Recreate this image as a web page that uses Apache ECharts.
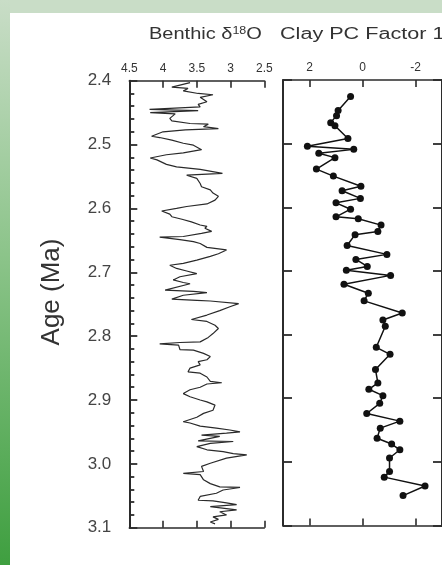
<!DOCTYPE html>
<html>
<head>
<meta charset="utf-8">
<script src="https://cdn.jsdelivr.net/npm/echarts@6.0.0/dist/echarts.min.js"></script>
<style>
html,body{margin:0;padding:0;background:#fff;}
#chart{width:442px;height:565px;}
</style>
</head>
<body>
<div id="chart"></div>
<script>
// Benthic d18O record (per mil) vs age (Ma)
const d18OAge = [2.403,2.410,2.412,2.416,2.420,2.422,2.426,2.433,2.437,2.441,2.445,2.446,2.447,2.450,2.452,2.459,2.463,2.467,2.468,2.472,2.475,2.477,2.480,2.487,2.489,2.493,2.498,2.501,2.508,2.513,2.516,2.521,2.524,2.531,2.535,2.539,2.545,2.548,2.553,2.561,2.566,2.571,2.576,2.581,2.587,2.593,2.597,2.600,2.604,2.609,2.613,2.617,2.621,2.626,2.628,2.631,2.636,2.639,2.644,2.645,2.649,2.652,2.655,2.661,2.665,2.671,2.675,2.681,2.686,2.689,2.694,2.698,2.702,2.707,2.712,2.716,2.718,2.728,2.730,2.732,2.736,2.742,2.744,2.745,2.749,2.754,2.760,2.767,2.774,2.777,2.783,2.788,2.796,2.802,2.809,2.810,2.812,2.814,2.821,2.822,2.827,2.832,2.837,2.840,2.845,2.850,2.856,2.858,2.864,2.871,2.873,2.875,2.880,2.884,2.890,2.895,2.900,2.903,2.908,2.916,2.921,2.927,2.934,2.936,2.941,2.944,2.947,2.950,2.952,2.955,2.957,2.964,2.965,2.968,2.973,2.978,2.981,2.984,2.986,2.991,2.999,3.004,3.012,3.015,3.017,3.025,3.031,3.036,3.037,3.041,3.046,3.051,3.057,3.058,3.061,3.064,3.067,3.072,3.075,3.080,3.083,3.087,3.091,3.094];
const d18O = [3.60,3.87,3.63,3.70,3.48,3.26,3.45,3.35,3.48,3.45,4.20,3.80,3.48,4.19,3.82,3.90,3.87,3.60,3.33,3.40,3.18,3.67,4.00,4.17,4.05,3.87,3.70,3.55,3.43,3.70,3.95,4.19,4.09,3.95,3.80,3.45,3.12,3.65,3.50,3.45,3.43,3.30,3.26,3.18,3.23,3.35,3.65,3.80,4.02,3.90,3.87,3.72,3.58,3.45,3.35,3.38,3.28,3.43,3.70,4.05,3.75,3.55,3.45,3.35,3.06,3.18,3.30,3.50,3.70,3.90,3.80,3.65,3.50,3.75,3.85,3.70,3.60,3.97,3.55,3.35,3.70,3.87,3.50,3.30,2.88,3.01,3.16,3.35,3.58,3.35,3.23,3.18,3.26,3.33,3.45,3.75,4.05,3.77,3.75,3.55,3.40,3.30,3.35,3.48,3.45,3.60,3.63,3.45,3.35,3.30,3.13,3.35,3.45,3.60,3.70,3.60,3.45,3.35,3.23,3.26,3.40,3.50,3.70,3.60,3.45,3.21,3.01,2.86,3.06,3.43,3.16,3.48,2.96,3.30,3.50,3.35,3.11,2.96,2.76,3.06,3.30,3.43,3.40,3.70,3.45,3.40,3.30,3.16,2.86,3.11,3.21,3.45,3.48,3.26,3.06,2.91,3.30,2.91,3.16,3.06,3.26,3.18,3.30,3.23];

// Clay PC Factor 1 vs age (Ma)
const clayAge = [2.426,2.448,2.456,2.467,2.472,2.492,2.504,2.509,2.515,2.522,2.540,2.551,2.567,2.574,2.586,2.593,2.603,2.615,2.618,2.628,2.638,2.643,2.660,2.674,2.682,2.693,2.699,2.707,2.721,2.735,2.747,2.766,2.777,2.787,2.820,2.831,2.855,2.876,2.886,2.896,2.908,2.924,2.936,2.947,2.963,2.972,2.981,2.994,3.015,3.024,3.038,3.053];
const clayPC = [0.45,0.92,0.98,1.20,1.04,0.55,2.08,0.33,1.65,1.04,1.74,1.10,0.06,0.77,0.08,1.00,0.45,1.00,0.16,-0.70,-0.58,0.28,0.58,-0.92,0.25,-0.18,0.61,-1.06,0.70,-0.22,-0.06,-1.50,-0.77,-0.86,-0.52,-1.04,-0.49,-0.58,-0.24,-0.77,-0.65,-0.16,-1.41,-0.67,-0.55,-1.10,-1.41,-1.02,-1.02,-0.82,-2.36,-1.53];

// Axis ticks
const d18OTicks = [4.5, 4, 3.5, 3, 2.5];
const clayTicks = [2, 0, -2];
const ageRange = [2.4, 3.1];
const ageMajorStep = 0.1;
const ageMinorPerMajor = 5;
const d18ORange = [2.5, 4.5];
const clayRange = [-3, 3];

const axisColor = '#2b2b2b';
const FONT = '"Liberation Sans", Arial, sans-serif';

function xAxisDef(gridIndex, pos, range, ticks, showLabel) {
  return {
    type: 'value', gridIndex: gridIndex, position: pos, inverse: true,
    min: range[0], max: range[1],
    axisLine: { show: true, onZero: false, lineStyle: { color: axisColor, width: 1.6 } },
    axisTick: { show: true, inside: true, length: 7, customValues: ticks, lineStyle: { color: axisColor, width: 1.6 } },
    axisLabel: { show: showLabel, customValues: ticks, margin: 6, fontSize: 12, color: '#333', fontFamily: FONT,
      formatter: v => String(v) },
    splitLine: { show: false }
  };
}
function yAxisDef(gridIndex, pos, tickLen, labelShow, minor) {
  return {
    type: 'value', gridIndex: gridIndex, position: pos, inverse: true,
    min: ageRange[0], max: ageRange[1], interval: ageMajorStep,
    axisLine: { show: true, onZero: false, lineStyle: { color: axisColor, width: 2 } },
    axisTick: { show: true, inside: true, length: tickLen, lineStyle: { color: axisColor, width: 1.8 } },
    minorTick: { show: !!minor, splitNumber: ageMinorPerMajor, length: 5, lineStyle: { color: axisColor, width: 1.8 } },
    axisLabel: { show: labelShow, margin: 18, fontSize: 17, color: '#444', fontFamily: FONT, formatter: v => v.toFixed(1) },
    splitLine: { show: false }, minorSplitLine: { show: false }
  };
}

const chart = echarts.init(document.getElementById('chart'), null, { renderer: 'canvas' });
const option = {
  animation: false,
  backgroundColor: '#fff',
  textStyle: { fontFamily: FONT },
  graphic: [
    { type: 'rect', shape: { x: 0, y: 0, width: 442, height: 13 }, style: { fill: '#c9ddc7' }, silent: true, z: -10 },
    { type: 'rect', shape: { x: 0, y: 0, width: 10, height: 565 }, silent: true, z: -10,
      style: { fill: new echarts.graphic.LinearGradient(0, 0, 0, 1, [
        { offset: 0, color: '#c9ddc7' }, { offset: 0.45, color: '#8cc48a' }, { offset: 1, color: '#3f9f40' }]) } },
    { type: 'text', x: 149, y: 35, scaleX: 1.25,
      style: { text: 'Benthic δ{sup|18}O', font: '16px ' + FONT, fill: '#333', verticalAlign: 'middle', textAlign: 'left',
        rich: { sup: { fontSize: 10, fontFamily: FONT, fill: '#333', verticalAlign: 'top', lineHeight: 18 } } } },
    { type: 'text', x: 280, y: 35, scaleX: 1.35,
      style: { text: 'Clay PC Factor 1', font: '16px ' + FONT, fill: '#333', verticalAlign: 'middle', textAlign: 'left' } },
    { type: 'text', x: 52, y: 292, rotation: Math.PI / 2,
      style: { text: 'Age (Ma)', font: '26px ' + FONT, fill: '#333', verticalAlign: 'middle', textAlign: 'center' } }
  ],
  grid: [
    { left: 129.3, top: 80.7, width: 135, height: 447, containLabel: false },
    { left: 283, top: 80, width: 163.5, height: 445.5, containLabel: false }
  ],
  xAxis: [
    xAxisDef(0, 'top', d18ORange, d18OTicks, true),
    xAxisDef(0, 'bottom', d18ORange, d18OTicks, false),
    xAxisDef(1, 'top', clayRange, clayTicks, true),
    xAxisDef(1, 'bottom', clayRange, clayTicks, false)
  ],
  yAxis: [
    yAxisDef(0, 'left', 8, true, true),
    yAxisDef(1, 'left', 9, false, false),
    yAxisDef(1, 'right', 9, false, false)
  ],
  series: [
    { type: 'line', xAxisIndex: 0, yAxisIndex: 0, showSymbol: false, symbol: 'none',
      data: d18O.map((v, i) => [v, d18OAge[i]]),
      lineStyle: { color: '#2a2a2a', width: 1.2 } },
    { type: 'line', xAxisIndex: 2, yAxisIndex: 1, symbol: 'circle', symbolSize: 7,
      data: clayPC.map((v, i) => [v, clayAge[i]]),
      itemStyle: { color: '#111' }, lineStyle: { color: '#111', width: 1.5 } }
  ]
};
chart.setOption(option);
</script>
</body>
</html>
